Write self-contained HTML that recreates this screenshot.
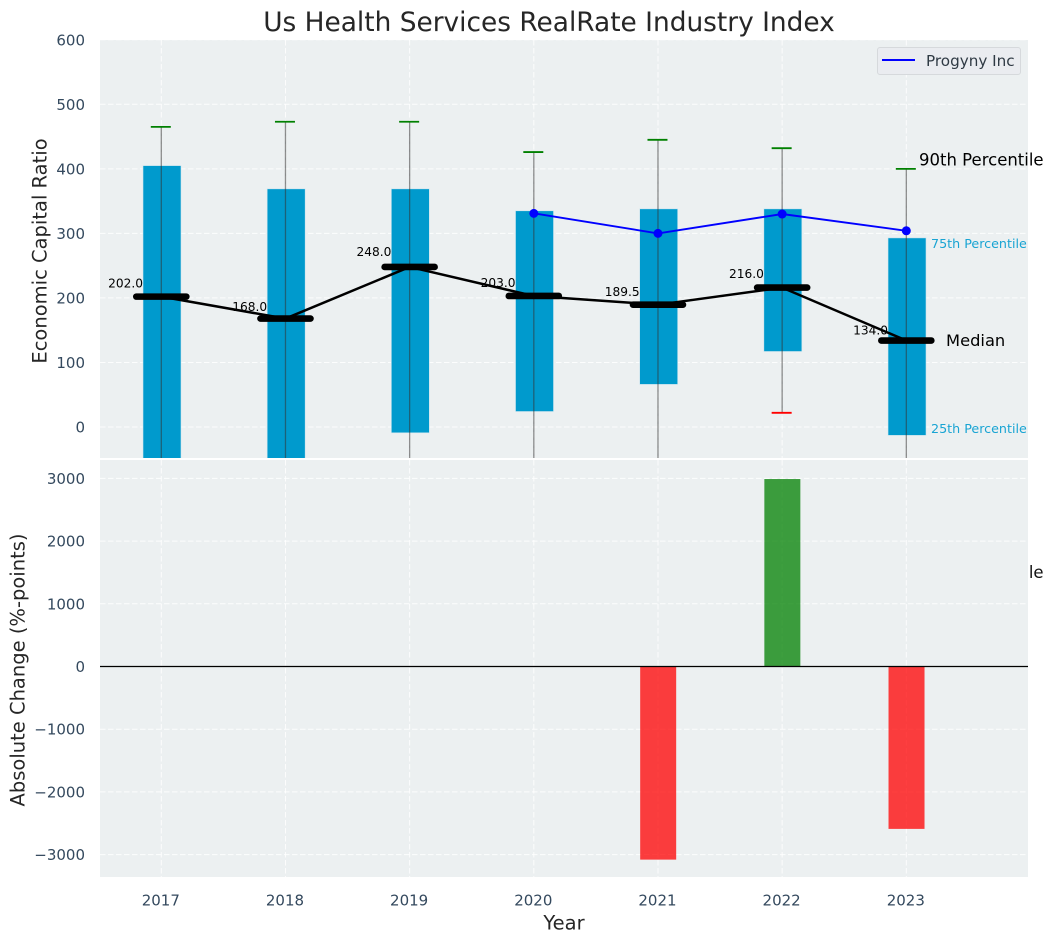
<!DOCTYPE html>
<html lang="en">
<head>
<meta charset="utf-8">
<title>Us Health Services RealRate Industry Index</title>
<style>
html,body{margin:0;padding:0;background:#fff;}
body{width:1054px;height:942px;overflow:hidden;}
svg{display:block;font-family:"DejaVu Sans","Liberation Sans",sans-serif;}
</style>
</head>
<body>
<svg id="chart" xmlns="http://www.w3.org/2000/svg" width="1054" height="942" viewBox="0 0 1054 942">
<defs>
<clipPath id="clip-top"><rect x="100" y="40" width="928" height="418"></rect></clipPath>
<clipPath id="clip-bottom"><rect x="100" y="460" width="928" height="417"></rect></clipPath>
</defs>
</svg>
<script>
const years = [2017, 2018, 2019, 2020, 2021, 2022, 2023];
const p90 = [465, 473, 473, 426, 445, 432, 400];
const p75 = [405, 369, 369, 335, 338, 338, 293];
const medians = [202, 168, 248, 203, 189.5, 216, 134];
const medianLabels = ["202.0", "168.0", "248.0", "203.0", "189.5", "216.0", "134.0"];
const p25 = [-60, -55, -9, 24, 66, 117, -13];
const p10 = [-120, -115, -95, -80, -60, 22, -85];
const progynyYears = [2020, 2021, 2022, 2023];
const progynyValues = [331, 300, 330, 304];
const changeYears = [2021, 2022, 2023];
const changeValues = [-3080, 2990, -2590];
const topTicks = [0, 100, 200, 300, 400, 500, 600];
const bottomTicks = [-3000, -2000, -1000, 0, 1000, 2000, 3000];

const NS = 'http://www.w3.org/2000/svg';
const svg = document.getElementById('chart');
const x = v => 161.3 + (v - 2017) * 124.17;
const yTop = v => 427 - v * 0.6454;
const yBot = v => 666.5 - v * 0.0627;

function mk(tag, attrs, parent, text) {
  const el = document.createElementNS(NS, tag);
  for (const k in attrs) el.setAttribute(k, attrs[k]);
  if (text !== undefined) el.textContent = text;
  (parent || svg).appendChild(el);
  return el;
}
let el;

/* top axes */
const topAxes = mk('g', {});


el = mk('rect', {x: 100, y: 40, width: 928, height: 418, fill: '#ecf0f1'}, topAxes);



const topGrid = mk('g', {stroke: '#ffffff', 'stroke-width': 1, 'stroke-opacity': 0.85, 'stroke-dasharray': '5.5 2.5', 'clip-path': 'url(#clip-top)'}, topAxes);


topTicks.forEach(t => {
  el = mk('line', {x1: 100, x2: 1028, y1: yTop(t), y2: yTop(t)}, topGrid);
  
  
});
years.forEach(yr => {
  el = mk('line', {x1: x(yr), x2: x(yr), y1: 40, y2: 458}, topGrid);
  
  
});

/* label drawn before the lower axes so that they cover all but its tail */
el = mk('text', {x: 919, y: 578, fill: '#111', 'font-size': 16.5}, topAxes, '10th Percentile');



const plotTop = mk('g', {'clip-path': 'url(#clip-top)'}, topAxes);



years.forEach((yr, i) => {
  const b = mk('rect', {x: x(yr) - 18.3, width: 38, y: yTop(p75[i]), height: yTop(p25[i]) - yTop(p75[i]), fill: '#009acd', stroke: '#cfe6ef', 'stroke-width': 0.6}, plotTop);
  
  
});
years.forEach((yr, i) => {
  const w = mk('line', {x1: x(yr), x2: x(yr), y1: yTop(p90[i]), y2: yTop(p10[i]), stroke: '#333', 'stroke-opacity': 0.55, 'stroke-width': 1.3}, plotTop);
  
  
  const c = mk('line', {x1: x(yr) - 10.5, x2: x(yr) + 9.5, y1: yTop(p90[i]), y2: yTop(p90[i]), stroke: '#008000', 'stroke-width': 1.8}, plotTop);
  
  
  const d = mk('line', {x1: x(yr) - 10.5, x2: x(yr) + 9.5, y1: yTop(p10[i]), y2: yTop(p10[i]), stroke: '#ff0000', 'stroke-width': 1.8}, plotTop);
  
  
});

const pts = years.map((yr, i) => x(yr) + ',' + yTop(medians[i])).join(' ');
el = mk('polyline', {points: pts, fill: 'none', stroke: '#000', 'stroke-width': 2.5, 'stroke-linejoin': 'round'}, plotTop);



years.forEach((yr, i) => {
  const m = mk('line', {x1: x(yr) - 25, x2: x(yr) + 25, y1: yTop(medians[i]), y2: yTop(medians[i]), stroke: '#000', 'stroke-width': 6.6, 'stroke-linecap': 'round'}, plotTop);
  
  
  const t = mk('text', {x: x(yr) - 18.3, y: yTop(medians[i] * 1.068) - 0.3, 'text-anchor': 'end', 'font-size': 12.2, fill: '#000'}, plotTop, medianLabels[i]);
  
  
});

const progPts = progynyYears.map((yr, i) => x(yr) + ',' + yTop(progynyValues[i])).join(' ');
el = mk('polyline', {points: progPts, fill: 'none', stroke: '#0000ff', 'stroke-width': 1.9}, plotTop);


progynyYears.forEach((yr, i) => {
  const p = mk('circle', {cx: x(yr), cy: yTop(progynyValues[i]), r: 4.5, fill: '#0000ff'}, plotTop);
  
  
});

/* annotations for last year */
const lastX = x(years[years.length - 1]);
el = mk('text', {x: lastX + 12.7, y: 165.5, 'font-size': 16.5, fill: '#000'}, svg, '90th Percentile');


el = mk('text', {x: lastX + 24.7, y: 248, 'font-size': 12.7, fill: '#19a4d3'}, svg, '75th Percentile');


el = mk('text', {x: lastX + 39.7, y: 346, 'font-size': 16.3, fill: '#000'}, svg, 'Median');


el = mk('text', {x: lastX + 24.7, y: 433, 'font-size': 12.7, fill: '#19a4d3'}, svg, '25th Percentile');



/* legend */
const legend = mk('g', {});


el = mk('rect', {x: 877.5, y: 47.5, width: 143, height: 27, rx: 2.5, fill: '#eaecf0', stroke: '#d6d9dc', 'stroke-width': 1}, legend);


el = mk('line', {x1: 882, x2: 915, y1: 60, y2: 60, stroke: '#0000ff', 'stroke-width': 1.9}, legend);


el = mk('text', {x: 926, y: 66, 'font-size': 15.2, fill: '#2f3a44'}, legend, 'Progyny Inc');



/* bottom axes */
const botAxes = mk('g', {});


el = mk('rect', {x: 100, y: 460, width: 928, height: 417, fill: '#ecf0f1'}, botAxes);



const botGrid = mk('g', {stroke: '#ffffff', 'stroke-width': 1, 'stroke-opacity': 0.85, 'stroke-dasharray': '5.5 2.5', 'clip-path': 'url(#clip-bottom)'}, botAxes);


bottomTicks.forEach(t => {
  el = mk('line', {x1: 100, x2: 1028, y1: yBot(t), y2: yBot(t)}, botGrid);
  
  
});
years.forEach(yr => {
  el = mk('line', {x1: x(yr), x2: x(yr), y1: 460, y2: 877}, botGrid);
  
  
});

changeYears.forEach((yr, i) => {
  const v = changeValues[i];
  const r = mk('rect', {x: x(yr) - 17.8, width: 36, y: Math.min(yBot(v), yBot(0)), height: Math.abs(yBot(v) - yBot(0)), fill: v >= 0 ? '#008000' : '#ff0000', 'fill-opacity': 0.75}, botAxes);
  
  
});
el = mk('line', {x1: 100, x2: 1028, y1: yBot(0), y2: yBot(0), stroke: '#000', 'stroke-width': 1.2}, botAxes);



/* tick labels */
const tickFill = '#34495e';
topTicks.forEach(t => {
  const l = mk('text', {x: 85, y: yTop(t) + 5.5, 'text-anchor': 'end', 'font-size': 15, fill: tickFill}, svg, String(t));
  
  
});
bottomTicks.forEach(t => {
  const l = mk('text', {x: 85, y: yBot(t) + 5.5, 'text-anchor': 'end', 'font-size': 15, fill: tickFill}, svg, String(t).replace('-', '\u2212'));
  
  
});
years.forEach(yr => {
  const l = mk('text', {x: x(yr) - 0.5, y: 905.5, 'text-anchor': 'middle', 'font-size': 15, fill: tickFill}, svg, String(yr));
  
  
});

/* titles */
el = mk('text', {x: 549, y: 31, 'text-anchor': 'middle', 'font-size': 26.4, fill: '#262626'}, svg, 'Us Health Services RealRate Industry Index');


el = mk('text', {x: 564, y: 929.5, 'text-anchor': 'middle', 'font-size': 19.5, fill: '#262626'}, svg, 'Year');


el = mk('text', {transform: 'translate(46.5 251) rotate(-90)', 'text-anchor': 'middle', 'font-size': 19.5, fill: '#262626'}, svg, 'Economic Capital Ratio');


el = mk('text', {transform: 'translate(24.5 670) rotate(-90)', 'text-anchor': 'middle', 'font-size': 19.5, fill: '#262626'}, svg, 'Absolute Change (%-points)');


</script>
</body>
</html>
